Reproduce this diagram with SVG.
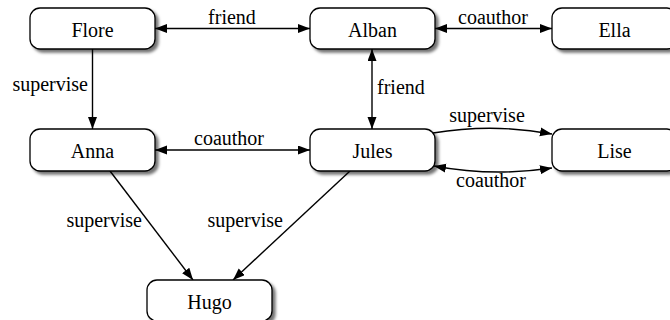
<svg xmlns="http://www.w3.org/2000/svg" width="670" height="320" viewBox="0 0 670 320">
<style>
.box{fill:#fff;stroke:#000;stroke-width:1.3;filter:url(#sh)}
.lbl{text-anchor:middle}
.e{fill:none;stroke:#000;stroke-width:1.4}
.one{marker-end:url(#ah)}
.two{marker-start:url(#ah);marker-end:url(#ah)}
</style>
<defs>
<filter id="sh" x="-10%" y="-20%" width="130%" height="160%">
<feDropShadow dx="3" dy="3" stdDeviation="1.8" flood-color="#000" flood-opacity="0.55"/>
</filter>
<marker id="ah" markerUnits="userSpaceOnUse" markerWidth="13" markerHeight="10" refX="12" refY="4.5" orient="auto-start-reverse">
<path d="M0,0 L12,4.5 L0,9 z" fill="#000"/>
</marker>
</defs>
<rect width="670" height="320" fill="#fff"/>
<g id="connectors" font-family="Liberation Serif, serif" font-size="20">
<line class="e two" x1="155" y1="28.5" x2="310" y2="28.5"/>
<line class="e two" x1="435" y1="28.5" x2="552" y2="28.5"/>
<line class="e one" x1="92.5" y1="49" x2="92.5" y2="129"/>
<line class="e two" x1="372" y1="129" x2="372" y2="49"/>
<line class="e two" x1="155" y1="150" x2="310" y2="150"/>
<path class="e one" d="M433,133 Q493,123 552,134"/>
<path class="e two" d="M434,166 Q493,177 552,168"/>
<line class="e one" x1="110" y1="171" x2="193" y2="280"/>
<line class="e one" x1="350" y1="171" x2="233" y2="280"/>
<text x="232" y="24" text-anchor="middle">friend</text>
<text x="493" y="24" text-anchor="middle">coauthor</text>
<text x="88" y="91" text-anchor="end">supervise</text>
<text x="377" y="94">friend</text>
<text x="229" y="145" text-anchor="middle">coauthor</text>
<text x="487" y="122" text-anchor="middle">supervise</text>
<text x="491" y="187" text-anchor="middle">coauthor</text>
<text x="142" y="227" text-anchor="end">supervise</text>
<text x="283" y="227" text-anchor="end">supervise</text>
</g>
<g font-family="Liberation Serif, serif" font-size="20">
<g id="Flore"><rect class="box" x="30" y="8" width="125" height="41" rx="10"/><text class="lbl" x="92.5" y="37">Flore</text></g>
<g id="Alban"><rect class="box" x="310" y="8" width="125" height="41" rx="10"/><text class="lbl" x="372.5" y="37">Alban</text></g>
<g id="Ella"><rect class="box" x="552" y="8" width="125" height="41" rx="10"/><text class="lbl" x="614.5" y="37">Ella</text></g>
<g id="Anna"><rect class="box" x="30" y="129" width="125" height="42" rx="10"/><text class="lbl" x="92.5" y="158">Anna</text></g>
<g id="Jules"><rect class="box" x="310" y="129" width="125" height="42" rx="10"/><text class="lbl" x="372.5" y="158">Jules</text></g>
<g id="Lise"><rect class="box" x="552" y="129" width="125" height="42" rx="10"/><text class="lbl" x="614.5" y="158">Lise</text></g>
<g id="Hugo"><rect class="box" x="147" y="280" width="125" height="41" rx="10"/><text class="lbl" x="209.5" y="309">Hugo</text></g>
</g>
</svg>
